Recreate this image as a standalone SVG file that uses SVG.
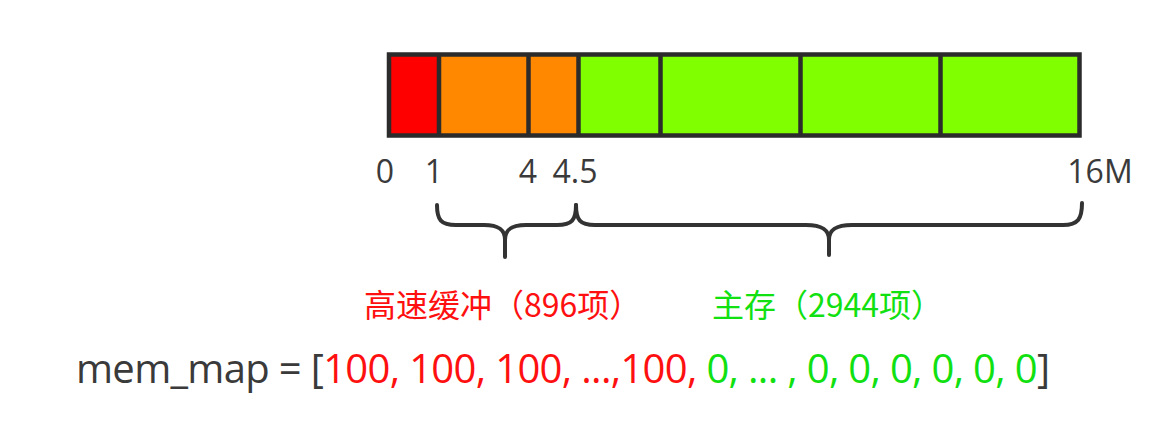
<svg xmlns="http://www.w3.org/2000/svg" width="1165" height="423" viewBox="0 0 1165 423">
<style>
.seg{stroke:none}
.div{stroke:#2b2b2b;stroke-width:4.5}
.lbl{font-family:"Open Sans","DejaVu Sans",sans-serif;font-size:32px;fill:#3a3a3a;text-anchor:middle}
.brace{fill:none;stroke:#333;stroke-width:4;stroke-linecap:round;stroke-linejoin:round}
.cjk{font-family:"Noto Sans CJK SC","Noto Sans",sans-serif;font-size:32px}
.code{font-family:"Open Sans","DejaVu Sans",sans-serif;font-size:40px;fill:#3a3a3a}
</style>
<rect width="1165" height="423" fill="#fff"/>
<g id="memory-bar">
<rect class="seg" x="389" y="54.5" width="50" height="81" fill="#ff0000"/>
<rect class="seg" x="439" y="54.5" width="140" height="81" fill="#ff8800"/>
<rect class="seg" x="578.5" y="54.5" width="501" height="81" fill="#80ff00"/>
<line class="div" x1="439" y1="54.5" x2="439" y2="135.5"/>
<line class="div" x1="528.5" y1="54.5" x2="528.5" y2="135.5"/>
<line class="div" x1="578.5" y1="54.5" x2="578.5" y2="135.5"/>
<line class="div" x1="660.5" y1="54.5" x2="660.5" y2="135.5"/>
<line class="div" x1="800.5" y1="54.5" x2="800.5" y2="135.5"/>
<line class="div" x1="940.5" y1="54.5" x2="940.5" y2="135.5"/>
<rect x="389" y="54.5" width="690.5" height="81" fill="none" stroke="#2b2b2b" stroke-width="4.5"/>
</g>
<g id="axis-labels">
<text class="lbl" x="385" y="183">0</text>
<text class="lbl" x="434" y="183">1</text>
<text class="lbl" x="528" y="183">4</text>
<text class="lbl" x="575" y="183">4.5</text>
<text class="lbl" x="1100" y="183">16M</text>
</g>
<g id="braces">
<path class="brace" d="M437,205 C437,220 441,225 456,225 L484,225 C498,225 505,229 505,240 M576,205 C576,220 572,225 557,225 L526,225 C512,225 505,229 505,240 L505,257"/>
<path class="brace" d="M576,205 C576,220 580,225 595,225 L806,225 C821,225 829,229 829,240 M1082,203 C1082,219 1078,225 1063,225 L852,225 C837,225 829,229 829,240 L829,255"/>
</g>
<g id="cache-label">
<text class="cjk" x="364" y="317" fill="#ff1010">高速缓冲（896项）</text>
</g>
<g id="main-label">
<text class="cjk" x="712" y="317" fill="#11e011">主存（2944项）</text>
</g>
<g id="mem-map">
<text class="code" x="76" y="383" textLength="974" lengthAdjust="spacing">mem_map = [<tspan fill="#ff1010">100, 100, 100, ...,100, </tspan><tspan fill="#11e011">0, ... , 0, 0, 0, 0, 0, 0</tspan>]</text>
</g>
</svg>
